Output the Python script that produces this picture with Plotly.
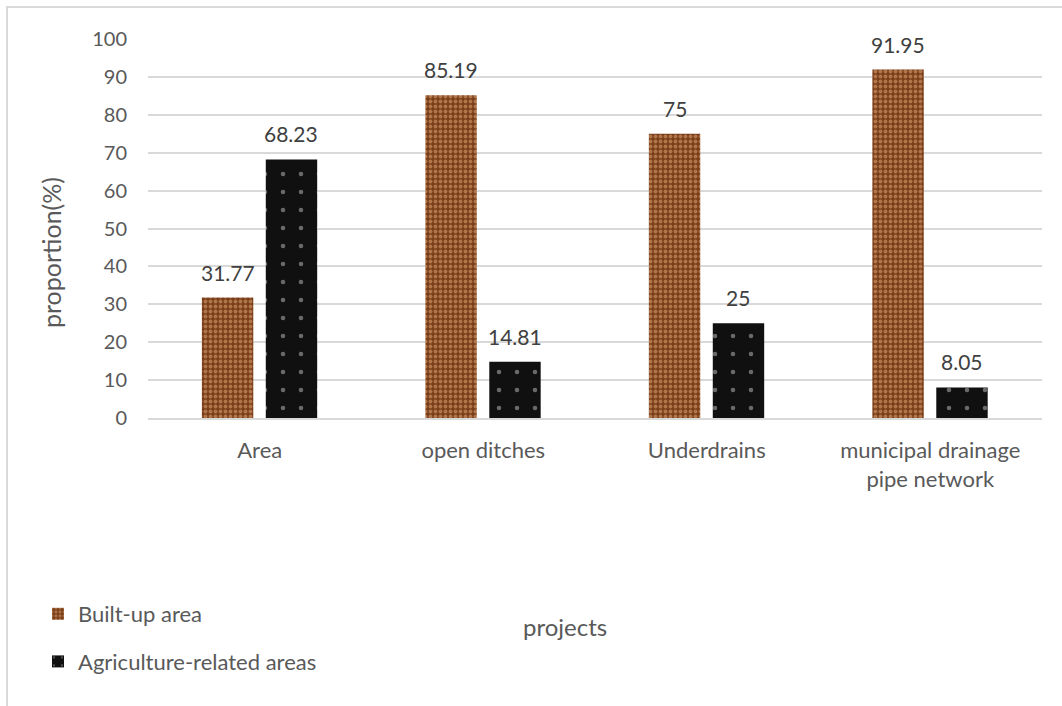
import plotly.graph_objects as go

categories = ["Area", "open ditches", "Underdrains", "municipal drainage<br>pipe network"]
built_up = [31.77, 85.19, 75, 91.95]
agri = [68.23, 14.81, 25, 8.05]
series_names = ["Built-up area", "Agriculture-related areas"]
y_ticks = list(range(0, 101, 10))

FONT = "Lato, Calibri, 'Open Sans', sans-serif"
TXT = "#595959"
LBL = "#404040"

L, R, T, B = 148, 20, 39, 288
W, H = 1062, 706
pw, ph = W - L - R, H - T - B

BAR_W = 0.23
OFFS = [-0.259, 0.027]

fig = go.Figure()
fig.add_trace(go.Bar(
    x=categories, y=built_up, name=series_names[0],
    width=BAR_W, offset=OFFS[0],
    marker=dict(color="#7d421c", line=dict(width=0),
                pattern=dict(shape=".", fgcolor="#b0764a", bgcolor="#7a3f1a",
                             size=5, solidity=0.45, fillmode="replace")),
    legendgroup="a",
))
fig.add_trace(go.Bar(
    x=categories, y=agri, name=series_names[1],
    width=BAR_W, offset=OFFS[1],
    marker=dict(color="#111111", line=dict(width=0),
                pattern=dict(shape=".", fgcolor="#6a6a6a", bgcolor="#101010",
                             size=18, solidity=0.05, fillmode="replace")),
    legendgroup="b",
))

# data labels
for s, vals in enumerate([built_up, agri]):
    for i, v in enumerate(vals):
        fig.add_annotation(x=i + OFFS[s] + BAR_W / 2, y=v, xref="x", yref="y",
                           text=f"{v:g}", showarrow=False, yanchor="bottom",
                           xanchor="center", yshift=11,
                           font=dict(family=FONT, size=21, color=LBL))

fig.add_annotation(x=(565 - L) / pw, y=(H - B - 626) / ph, xref="paper", yref="paper",
                   text="projects", showarrow=False, xanchor="center", yanchor="middle",
                   font=dict(family=FONT, size=24, color=TXT))
fig.add_annotation(x=(51 - L) / pw, y=(H - B - 253) / ph, xref="paper", yref="paper",
                   text="proportion(%)", showarrow=False, textangle=-90,
                   xanchor="center", yanchor="middle",
                   font=dict(family=FONT, size=25, color=TXT))

# chart border
fig.add_shape(type="rect", xref="paper", yref="paper",
              x0=(7 - L) / pw, x1=(W + 20 - L) / pw,
              y0=(H - B - (H + 20)) / ph, y1=(H - B - 7) / ph,
              line=dict(color="#d9d9d9", width=2), fillcolor="rgba(0,0,0,0)", layer="below")

fig.update_layout(
    width=W, height=H,
    margin=dict(l=L, r=R, t=T, b=B),
    paper_bgcolor="white", plot_bgcolor="white",
    barmode="overlay",
    font=dict(family=FONT, size=21, color=TXT),
    showlegend=True,
    legend=dict(x=(38 - L) / pw, y=(H - B - 593) / ph, xanchor="left", yanchor="top",
                traceorder="grouped", tracegroupgap=16, orientation="v",
                font=dict(family=FONT, size=22, color=TXT), itemwidth=30,
                bgcolor="rgba(0,0,0,0)"),
    xaxis=dict(showgrid=False, showline=True, linecolor="#d9d9d9", linewidth=1.5,
               ticks="outside", ticklen=12, tickcolor="rgba(0,0,0,0)",
               tickfont=dict(family=FONT, size=22, color=TXT)),
    yaxis=dict(range=[0, 100], tickvals=y_ticks, showgrid=True, gridcolor="#d9d9d9",
               gridwidth=1.5, zeroline=False, showline=False,
               ticklabelstandoff=20,
               tickfont=dict(family=FONT, size=20, color=TXT)),
)

fig.write_html("out.html")
